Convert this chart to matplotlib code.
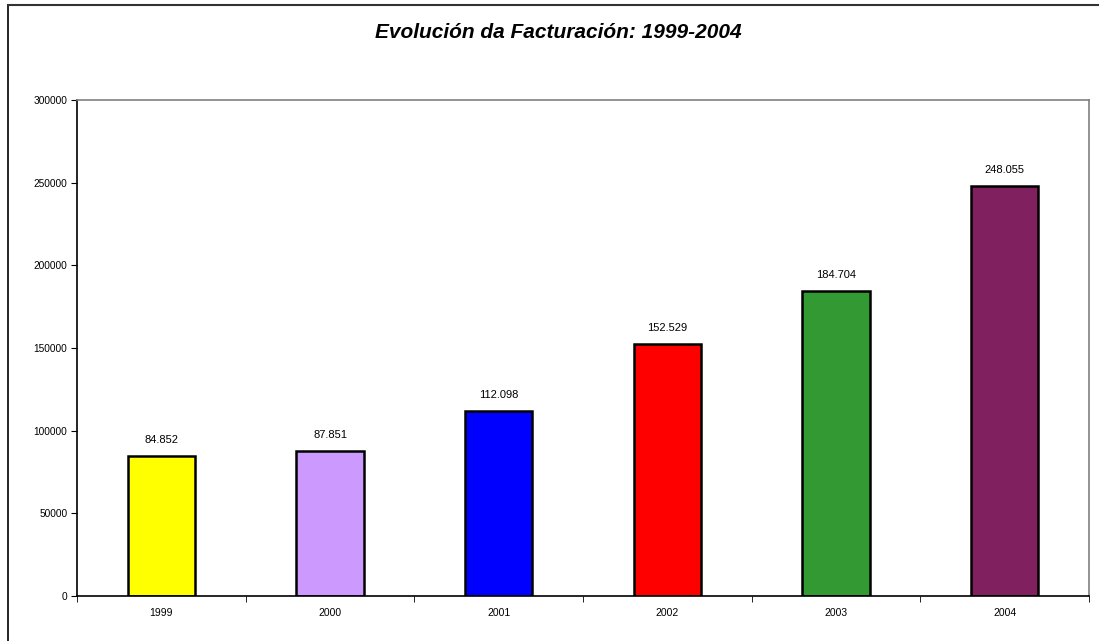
import numpy as np
import matplotlib.pyplot as plt
from matplotlib.lines import Line2D

plt.rcParams['font.family'] = ['Liberation Sans', 'DejaVu Sans']

years = ['1999', '2000', '2001', '2002', '2003', '2004']
facturacion = [84852, 87851, 112098, 152529, 184704, 248055]
labels = ['84.852', '87.851', '112.098', '152.529', '184.704', '248.055']
colors = ['#FFFF00', '#CC99FF', '#0000FF', '#FF0000', '#339933', '#80205F']

fig = plt.figure(figsize=(11.03, 6.41), dpi=100)
ax = fig.add_axes([77 / 1103, 1 - 596 / 641, 1012 / 1103, 496 / 641])

x = np.arange(len(years))
bars = ax.bar(x, facturacion, width=0.4, color=colors, edgecolor='black', linewidth=1.8)

for b, lab in zip(bars, labels):
    ax.annotate(lab, (b.get_x() + b.get_width() / 2, b.get_height()),
                xytext=(0, 7.5), textcoords='offset points',
                ha='center', va='bottom', fontsize=8)

ax.set_xlim(-0.5, len(years) - 0.5)
ax.set_ylim(0, 300000)
ax.set_yticks(np.arange(0, 300001, 50000))
ax.tick_params(axis='y', direction='out', length=4, labelsize=7.3, pad=3)

# category labels centred, ticks on the boundaries
ax.set_xticks(x)
ax.set_xticklabels(years, fontsize=7.5)
ax.tick_params(axis='x', which='major', length=0, pad=9)
ax.set_xticks(np.arange(-0.5, len(years)), minor=True)
ax.tick_params(axis='x', which='minor', direction='out', length=4)

ax.spines['top'].set_color('#808080')
ax.spines['right'].set_color('#808080')
for s in ax.spines.values():
    s.set_linewidth(1.2)

fig.text(558 / 1103, 1 - 33 / 641, 'Evolución da Facturación: 1999-2004',
         ha='center', va='center', fontsize=15, fontweight='bold', style='italic')

# outer frame (only left and top edges visible)
fig.add_artist(Line2D([8 / 1103, 8 / 1103], [0, 1 - 5 / 641], color='black', lw=1.2,
                      transform=fig.transFigure))
fig.add_artist(Line2D([8 / 1103, 1098 / 1103], [1 - 5 / 641, 1 - 5 / 641], color='#333333', lw=1.5,
                      transform=fig.transFigure))

fig.savefig('out.png', dpi=100)
